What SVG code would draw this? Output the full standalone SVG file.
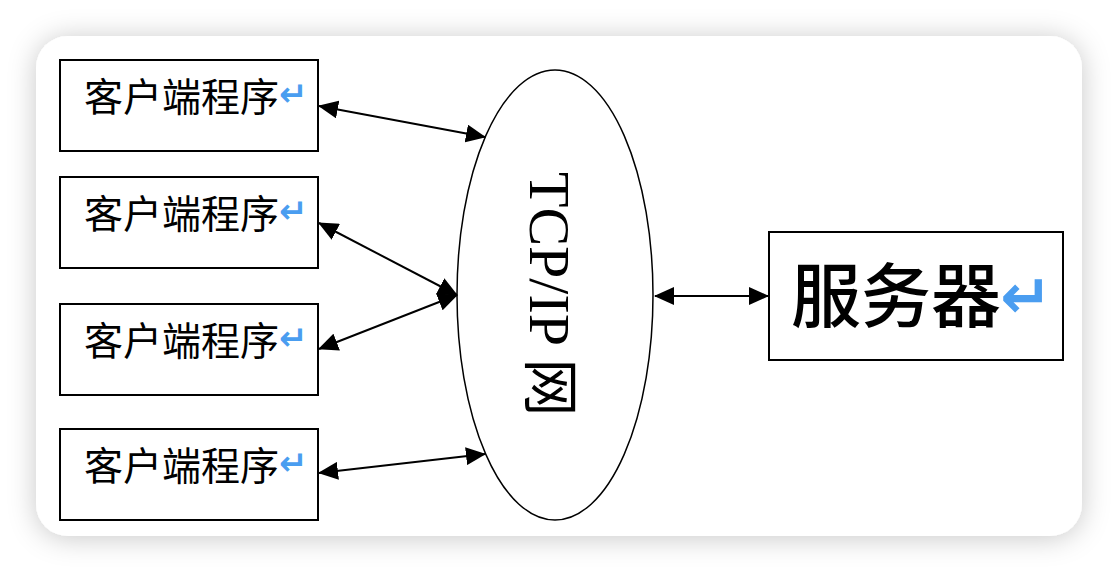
<svg xmlns="http://www.w3.org/2000/svg" width="1118" height="572" viewBox="0 0 1118 572">
<style>
.box{fill:#fff;stroke:#000;stroke-width:2}
.lbl{font-family:"Noto Sans CJK SC","Noto Sans",sans-serif;font-size:39px;fill:#000}
.ret{font-family:"DejaVu Sans",sans-serif;fill:#4a9df0;font-weight:bold}
.conn{stroke:#000;stroke-width:2;fill:none;marker-start:url(#ah);marker-end:url(#ah)}
</style>
<defs>
<filter id="sh" x="-10%" y="-15%" width="120%" height="130%">
<feDropShadow dx="0" dy="2" stdDeviation="14" flood-color="#000" flood-opacity="0.22"/>
</filter>
<marker id="ah" viewBox="0 0 20 18" refX="19" refY="9" markerWidth="20" markerHeight="18" markerUnits="userSpaceOnUse" orient="auto-start-reverse">
<path d="M0,0 L20,9 L0,18 Z" fill="#000"/>
</marker>
</defs>
<rect x="0" y="0" width="1118" height="572" fill="#fff"/>
<rect x="36" y="36" width="1046" height="500" rx="32" fill="#fff" filter="url(#sh)"/>
<g id="client1">
<rect class="box" x="60" y="60" width="258" height="91"/>
<text class="lbl" x="84" y="111">客户端程序</text>
<text class="ret" x="279" y="106" font-size="34">↵</text>
</g>
<g id="client2">
<rect class="box" x="60" y="177" width="258" height="91"/>
<text class="lbl" x="84" y="228">客户端程序</text>
<text class="ret" x="279" y="223" font-size="34">↵</text>
</g>
<g id="client3">
<rect class="box" x="60" y="304" width="258" height="91"/>
<text class="lbl" x="84" y="355">客户端程序</text>
<text class="ret" x="279" y="350" font-size="34">↵</text>
</g>
<g id="client4">
<rect class="box" x="60" y="429" width="258" height="91"/>
<text class="lbl" x="84" y="480">客户端程序</text>
<text class="ret" x="279" y="475" font-size="34">↵</text>
</g>
<g id="network">
<ellipse cx="555" cy="295" rx="98" ry="225" fill="#fff" stroke="#000" stroke-width="1.5"/>
<text transform="translate(530,172) rotate(90)" font-family="'Liberation Serif','Noto Sans CJK SC',serif" font-size="58" fill="#000">TCP/IP 网</text>
</g>
<g id="server">
<rect class="box" x="769" y="232" width="294" height="128"/>
<text x="791" y="322" font-family="'Noto Sans CJK SC',sans-serif" font-size="70" font-weight="500" fill="#000">服务器</text>
<text class="ret" x="1000" y="318" font-size="62">↵</text>
</g>
<g id="connectors">
<line class="conn" x1="319" y1="106" x2="485" y2="137"/>
<line class="conn" x1="319" y1="223" x2="457" y2="295"/>
<line class="conn" x1="319" y1="349" x2="457" y2="295"/>
<line class="conn" x1="319" y1="473" x2="485" y2="454"/>
<line class="conn" x1="655" y1="296" x2="768" y2="296"/>
</g>
</svg>
